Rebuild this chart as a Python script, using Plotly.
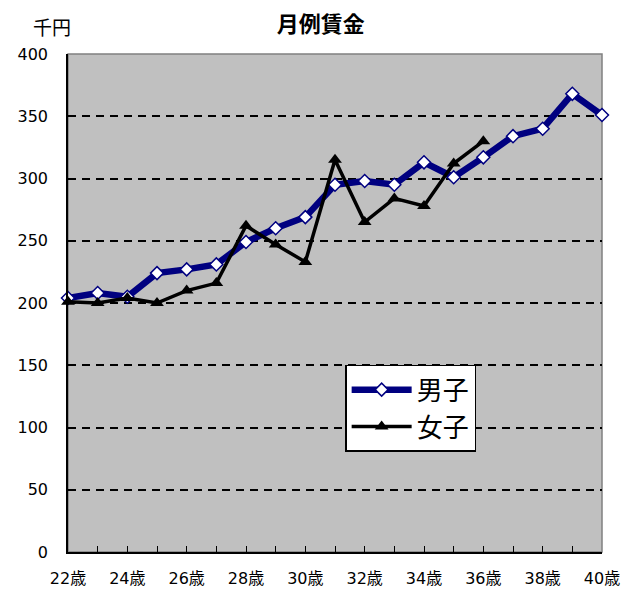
import plotly.graph_objects as go

# 年齢（歳）と月例賃金（千円）
ages = list(range(22, 41))
age_labels = [f"{a}歳" for a in ages]
male_wage = [204, 208, 205, 224, 227, 231, 249, 260, 269, 295, 298, 295, 313, 301, 317, 334, 340, 368, 351]
female_ages = list(range(22, 37))
female_wage = [201, 200, 204, 200, 210, 216, 262, 247, 233, 315, 265, 284, 278, 312, 330]

y_ticks = list(range(0, 401, 50))

fig = go.Figure()

fig.add_trace(go.Scatter(
    x=ages, y=male_wage, name="男子", mode="lines+markers",
    line=dict(color="#000080", width=6.5),
    marker=dict(symbol="diamond", size=10, color="white",
                line=dict(color="#000080", width=1.5)),
    cliponaxis=False,
))
fig.add_trace(go.Scatter(
    x=female_ages, y=female_wage, name="女子", mode="lines+markers",
    line=dict(color="black", width=3.5),
    marker=dict(symbol="triangle-up", size=12, color="black"),
    cliponaxis=False,
))

cjk = "DejaVu Sans, Noto Sans CJK JP"

fig.update_layout(
    width=635, height=591,
    margin=dict(l=68, r=33, t=54, b=39),
    paper_bgcolor="white",
    plot_bgcolor="#C0C0C0",
    title=dict(text="<b>月例賃金</b>", x=0.505, xanchor="center",
               y=0.972, yanchor="top", yref="container",
               font=dict(family="Noto Sans CJK JP", size=22, color="black")),
    showlegend=True,
    legend=dict(x=0.519, y=0.376, xanchor="left", yanchor="top",
                bgcolor="white", bordercolor="black", borderwidth=1.5,
                font=dict(family="Noto Sans CJK JP", size=26, color="black"),
                itemwidth=60, tracegroupgap=0),
    xaxis=dict(
        range=[22, 40], tickmode="array", tickvals=ages[::2],
        ticktext=age_labels[::2],
        tickfont=dict(family=cjk, size=16, color="black"),
        ticks="inside", ticklen=6, tickcolor="black",
        minor=dict(dtick=1, ticks="inside", ticklen=6, tickcolor="black",
                   showgrid=False),
        showgrid=False, zeroline=False,
        showline=True, linecolor="black", linewidth=1.5,
        ticklabelstandoff=11, automargin=False,
    ),
    yaxis=dict(
        range=[0, 400], tickmode="array", tickvals=y_ticks,
        tickfont=dict(family="DejaVu Sans", size=16, color="black"),
        ticks="inside", ticklen=7, tickcolor="black",
        showgrid=True, gridcolor="black", gridwidth=1.5, griddash="8px,6px",
        zeroline=False,
        showline=True, linecolor="black", linewidth=1.5,
        ticklabelstandoff=15, automargin=False,
    ),
    annotations=[dict(text="千円", xref="paper", yref="paper",
                      x=-0.03, y=1.055, xanchor="center", yanchor="middle",
                      showarrow=False,
                      font=dict(family="Noto Sans CJK JP", size=19, color="black"))],
    shapes=[dict(type="rect", xref="paper", yref="paper", x0=0, y0=0, x1=1, y1=1,
                 line=dict(color="#808080", width=1.5), layer="between")],
)

fig.write_html("out.html")
